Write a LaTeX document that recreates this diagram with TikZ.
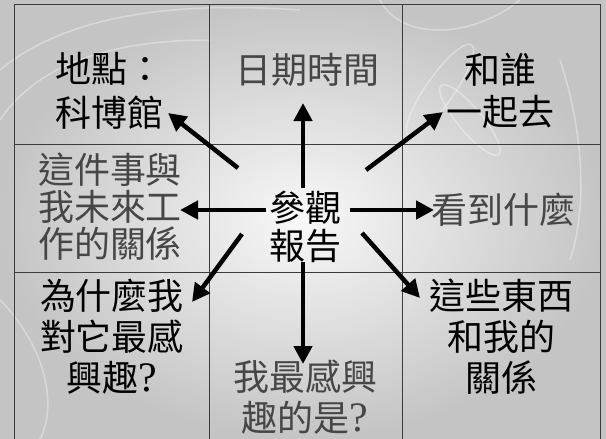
\documentclass[tikz,border=0pt]{standalone}
\usepackage{fontspec}
\newfontfamily\cjk{Noto Sans CJK TC}
\newfontfamily\qmark{Liberation Serif}
\usetikzlibrary{arrows.meta}

\definecolor{inkgrey}{HTML}{464646}
\definecolor{gridline}{HTML}{3C3C3C}
\definecolor{paperdark}{HTML}{C4C4C4}
\definecolor{paperlight}{HTML}{F8F8F8}

\tikzset{
  cell/.style={align=center, inner sep=0pt, text=black,
    font=\cjk\fontsize{36}{#1}\selectfont},
  cell/.default=41,
  faint/.style={cell=#1, text=inkgrey},
  faint/.default=41,
  arr/.style={line width=4.5pt, -{Triangle[length=18pt,width=18pt]}},
  swirl/.style={white, opacity=0.35, line width=1.5pt},
}
\newcommand{\qm}{{\qmark\fontsize{42}{41}\selectfont ?}}

\begin{document}
\begin{tikzpicture}[x=1pt, y=-1pt]
\useasboundingbox (0,0) rectangle (606,439);
% background
\shade[inner color=paperlight, outer color=paperdark] (0,0) rectangle (606,439);
\begin{scope}
\clip (0,0) rectangle (606,439);
\draw[swirl] (0,70) .. controls (60,20) and (160,0) .. (300,10);
\draw[swirl] (0,120) .. controls (40,60) and (120,40) .. (210,40);
\draw[swirl] (0,300) .. controls (40,340) and (60,400) .. (40,439);
\draw[swirl, rotate around={-35:(440,90)}] (440,90) ellipse (14 and 55);
\draw[swirl, rotate around={40:(470,120)}] (470,120) ellipse (12 and 45);
\draw[swirl] (380,0) .. controls (400,40) and (470,40) .. (520,0);
\draw[swirl] (560,60) .. controls (580,120) and (590,200) .. (570,260);
\end{scope}

% grid
\draw[gridline, line width=1pt] (14,439) -- (14,4) -- (600,4) -- (600,439);
\draw[gridline, line width=1pt] (209,4) -- (209,439);
\draw[gridline, line width=1pt] (402,4) -- (402,439);
\draw[gridline, line width=1pt] (14,144) -- (600,144);
\draw[gridline, line width=1pt] (14,272) -- (600,272);

% cells
\node[cell=44] (place) at (110,91) {地點：\\科博館};
\node[faint] (date) at (307,70) {日期時間};
\node[cell=42] (who) at (500,91) {和誰\\一起去};
\node[faint=37] (future) at (110,207) {這件事與\\我未來工\\作的關係};
\node[cell=38] (hub) at (305,227) {參觀\\報告};
\node[faint] (saw) at (503,210) {看到什麼};
\node[cell] (why) at (112,337) {為什麼我\\對它最感\\興趣\qm};
\node[faint] (most) at (305,397) {我最感興\\趣的是\qm};
\node[cell] (rel) at (501,337) {這些東西\\和我的\\關係};

% arrow ends
\coordinate (from-place) at (238,168);  \coordinate (to-place) at (168,113);
\coordinate (from-date) at (303,188);   \coordinate (to-date) at (303,103);
\coordinate (from-who) at (366,170);    \coordinate (to-who) at (443,112);
\coordinate (from-future) at (266,210); \coordinate (to-future) at (180,210);
\coordinate (from-saw) at (350,210);    \coordinate (to-saw) at (434,210);
\coordinate (from-why) at (242,234);    \coordinate (to-why) at (192,302);
\coordinate (from-most) at (303,262);   \coordinate (to-most) at (303,364);
\coordinate (from-rel) at (362,233);    \coordinate (to-rel) at (420,298);

\draw[arr] (from-place) -- (to-place);
\draw[arr] (from-date) -- (to-date);
\draw[arr] (from-who) -- (to-who);
\draw[arr] (from-future) -- (to-future);
\draw[arr] (from-saw) -- (to-saw);
\draw[arr] (from-why) -- (to-why);
\draw[arr] (from-most) -- (to-most);
\draw[arr] (from-rel) -- (to-rel);
\end{tikzpicture}
\end{document}
